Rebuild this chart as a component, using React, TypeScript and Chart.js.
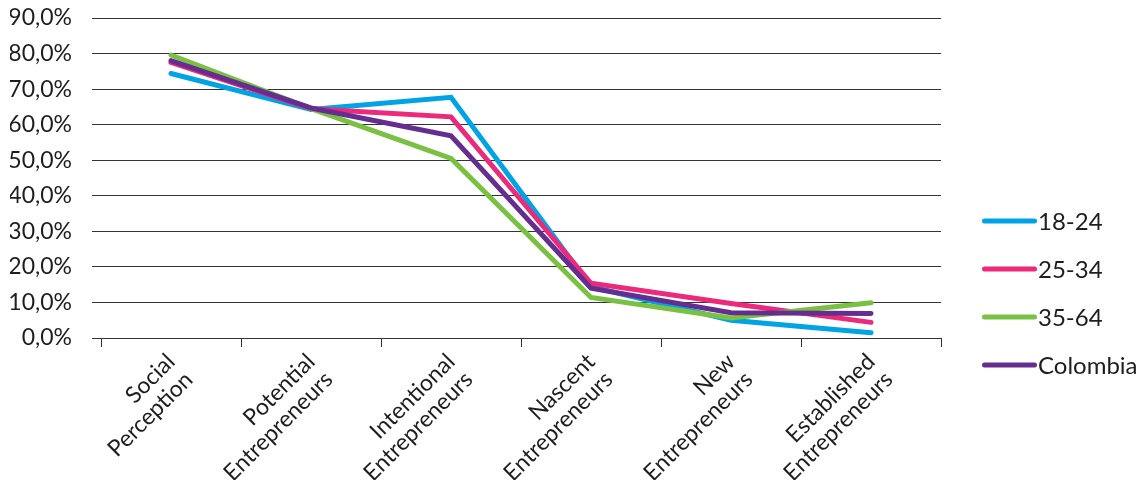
import React, { useEffect, useRef } from "react";
import { Chart, registerables } from "chart.js";

Chart.register(...registerables);

const categories: string[][] = [
  ["Social", "Perception"],
  ["Potential", "Entrepreneurs"],
  ["Intentional", "Entrepreneurs"],
  ["Nascent", "Entrepreneurs"],
  ["New", "Entrepreneurs"],
  ["Established", "Entrepreneurs"],
];

const seriesNames = ["18-24", "25-34", "35-64", "Colombia"];
const seriesColors = ["#00A4E4", "#EC297B", "#7AC143", "#662D91"];

const values1824 = [74.4, 64.3, 67.7, 14.4, 5.0, 1.5];
const values2534 = [77.5, 64.5, 62.2, 15.4, 9.7, 4.4];
const values3564 = [79.6, 64.5, 50.5, 11.4, 5.6, 9.9];
const valuesColombia = [78.0, 64.7, 56.9, 14.0, 7.1, 6.9];

const yTicks = [0, 10, 20, 30, 40, 50, 60, 70, 80, 90];

const FONT = "Lato";
const TEXT = "#1e1e1e";
const GRID = "#333333";

const sideLegend = {
  id: "sideLegend",
  afterDraw(chart: any) {
    const { ctx, chartArea } = chart;
    const x0 = chartArea.right + 41;
    const lineLen = 55;
    const step = 48;
    const firstY = chartArea.bottom - 117;
    ctx.save();
    ctx.font = `24px ${FONT}`;
    ctx.textBaseline = "middle";
    ctx.textAlign = "left";
    chart.data.datasets.forEach((ds: any, i: number) => {
      const y = firstY + i * step;
      ctx.strokeStyle = ds.borderColor;
      ctx.lineWidth = 5;
      ctx.lineCap = "round";
      ctx.beginPath();
      ctx.moveTo(x0 + 2.5, y);
      ctx.lineTo(x0 + lineLen - 2.5, y);
      ctx.stroke();
      ctx.fillStyle = TEXT;
      ctx.fillText(ds.label, x0 + lineLen + 1, y + 1);
    });
    ctx.restore();
  },
};

export default function App() {
  const ref = useRef<HTMLCanvasElement | null>(null);
  useEffect(() => {
    if (!ref.current) return;
    const seriesValues = [values1824, values2534, values3564, valuesColombia];
    const chart = new Chart(ref.current, {
      type: "line",
      data: {
        labels: categories,
        datasets: seriesNames.map((name, i) => ({
          label: name,
          data: seriesValues[i],
          borderColor: seriesColors[i],
          backgroundColor: seriesColors[i],
          borderWidth: 5,
          pointRadius: 0,
          pointHoverRadius: 0,
          tension: 0,
          borderCapStyle: "round",
          borderJoinStyle: "miter",
          order: seriesNames.length - i,
        })),
      },
      options: {
        responsive: false,
        animation: false,
        devicePixelRatio: 1,
        layout: { padding: { left: 10, right: 201, top: 18, bottom: 0 } },
        plugins: {
          legend: { display: false },
          tooltip: { enabled: false },
        },
        scales: {
          x: {
            offset: true,
            afterFit: (axis: any) => {
              axis.height = 142;
            },
            grid: {
              display: true,
              drawOnChartArea: false,
              drawTicks: true,
              tickLength: 9,
              color: GRID,
              lineWidth: 1,
              offset: true,
            },
            border: { display: true, color: GRID, width: 1 },
            ticks: {
              autoSkip: false,
              minRotation: 45,
              maxRotation: 45,
              padding: 2,
              color: TEXT,
              font: { family: FONT, size: 23, lineHeight: 1.1 },
            },
          },
          y: {
            min: 0,
            max: 90,
            afterFit: (axis: any) => {
              axis.width = 91;
              axis.paddingTop = 0;
              axis.paddingBottom = 0;
            },
            afterBuildTicks: (axis: any) => {
              axis.ticks = yTicks.map((v) => ({ value: v }));
            },
            grid: {
              color: GRID,
              lineWidth: 1,
              drawTicks: true,
              tickLength: 9,
            },
            border: { display: false },
            ticks: {
              padding: 20,
              color: TEXT,
              font: { family: FONT, size: 23 },
              callback: (v: any) => Number(v).toFixed(1).replace(".", ",") + "%",
            },
          },
        },
      },
      plugins: [sideLegend],
    });
    return () => chart.destroy();
  }, []);
  return (
    <div style={{ position: "absolute", left: 0, top: 0, width: 1142, height: 480, background: "#fff" }}>
      <canvas ref={ref} width={1142} height={480} style={{ width: 1142, height: 480 }} />
    </div>
  );
}
